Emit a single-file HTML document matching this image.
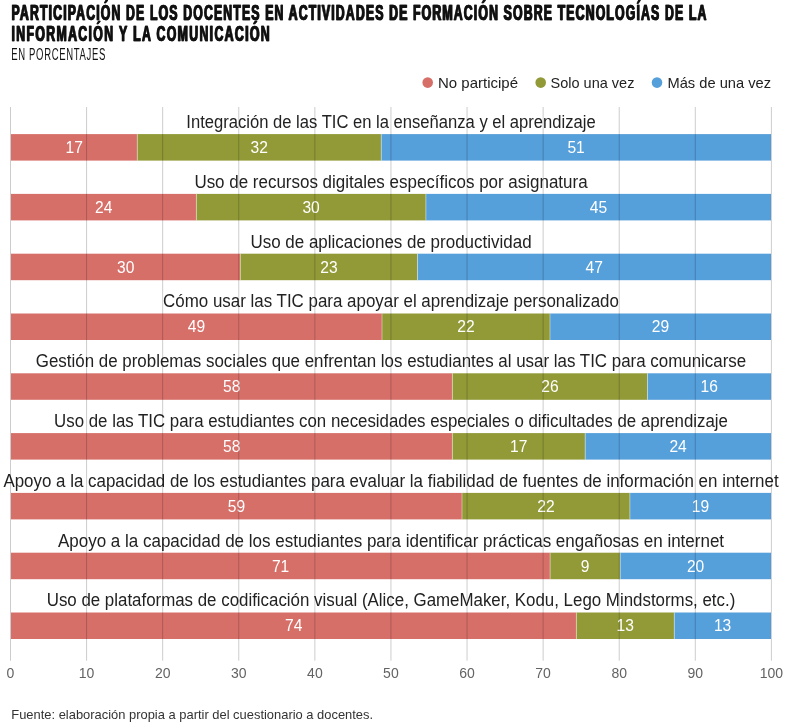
<!DOCTYPE html><html><head><meta charset="utf-8"><style>html,body{margin:0;padding:0;background:#fff;width:793px;height:728px;overflow:hidden}svg{display:block;will-change:transform}text{font-family:"Liberation Sans",sans-serif}</style></head><body>
<svg width="793" height="728" viewBox="0 0 793 728">
<rect x="0" y="0" width="793" height="728" fill="#fff"/>
<text transform="scale(0.57,1)" x="19.65" y="20.1" font-size="21.6" font-weight="bold" fill="#111" stroke="#111" stroke-width="0.7" textLength="1219.12" lengthAdjust="spacing">PARTICIPACIÓN DE LOS DOCENTES EN ACTIVIDADES DE FORMACIÓN SOBRE TECNOLOGÍAS DE LA</text>
<text transform="scale(0.57,1)" x="20.70" y="20.1" font-size="21.6" font-weight="bold" fill="#111" stroke="#111" stroke-width="0.7" textLength="1219.12" lengthAdjust="spacing">PARTICIPACIÓN DE LOS DOCENTES EN ACTIVIDADES DE FORMACIÓN SOBRE TECNOLOGÍAS DE LA</text>
<text transform="scale(0.57,1)" x="19.65" y="40.9" font-size="21.6" font-weight="bold" fill="#111" stroke="#111" stroke-width="0.7" textLength="452.98" lengthAdjust="spacing">INFORMACIÓN Y LA COMUNICACIÓN</text>
<text transform="scale(0.57,1)" x="20.70" y="40.9" font-size="21.6" font-weight="bold" fill="#111" stroke="#111" stroke-width="0.7" textLength="452.98" lengthAdjust="spacing">INFORMACIÓN Y LA COMUNICACIÓN</text>
<text transform="scale(0.55,1)" x="20.36" y="59.8" font-size="17.3" font-weight="normal" fill="#111" textLength="171.27" lengthAdjust="spacing">EN PORCENTAJES</text>
<circle cx="427.7" cy="82.6" r="5.3" fill="#d76f69"/>
<text x="438" y="88" font-size="14.6" fill="#222" textLength="80.0" lengthAdjust="spacingAndGlyphs">No participé</text>
<circle cx="540.7" cy="82.6" r="5.3" fill="#919a37"/>
<text x="550.5" y="88" font-size="14.6" fill="#222" textLength="83.9" lengthAdjust="spacingAndGlyphs">Solo una vez</text>
<circle cx="657" cy="82.6" r="5.3" fill="#559fdb"/>
<text x="667.5" y="88" font-size="14.6" fill="#222" textLength="103.5" lengthAdjust="spacingAndGlyphs">Más de una vez</text>
<text x="391.0" y="127.9" font-size="17.5" fill="#222" text-anchor="middle" textLength="409.4" lengthAdjust="spacingAndGlyphs">Integración de las TIC en la enseñanza y el aprendizaje</text>
<rect x="11.00" y="134.10" width="126.30" height="26.5" fill="#d76f69"/>
<rect x="137.30" y="134.10" width="243.95" height="26.5" fill="#919a37"/>
<rect x="381.25" y="134.10" width="389.75" height="26.5" fill="#559fdb"/>
<rect x="136.80" y="134.10" width="1" height="26.5" fill="#fff" fill-opacity="0.4"/>
<rect x="380.75" y="134.10" width="1" height="26.5" fill="#fff" fill-opacity="0.4"/>
<text x="74.2" y="152.9" font-size="15.6" fill="#fff" text-anchor="middle">17</text>
<text x="259.3" y="152.9" font-size="15.6" fill="#fff" text-anchor="middle">32</text>
<text x="576.1" y="152.9" font-size="15.6" fill="#fff" text-anchor="middle">51</text>
<text x="391.0" y="187.7" font-size="17.5" fill="#222" text-anchor="middle" textLength="393.2" lengthAdjust="spacingAndGlyphs">Uso de recursos digitales específicos por asignatura</text>
<rect x="11.00" y="193.90" width="185.40" height="26.5" fill="#d76f69"/>
<rect x="196.40" y="193.90" width="229.50" height="26.5" fill="#919a37"/>
<rect x="425.90" y="193.90" width="345.10" height="26.5" fill="#559fdb"/>
<rect x="195.90" y="193.90" width="1" height="26.5" fill="#fff" fill-opacity="0.4"/>
<rect x="425.40" y="193.90" width="1" height="26.5" fill="#fff" fill-opacity="0.4"/>
<text x="103.7" y="212.7" font-size="15.6" fill="#fff" text-anchor="middle">24</text>
<text x="311.1" y="212.7" font-size="15.6" fill="#fff" text-anchor="middle">30</text>
<text x="598.5" y="212.7" font-size="15.6" fill="#fff" text-anchor="middle">45</text>
<text x="391.0" y="247.5" font-size="17.5" fill="#222" text-anchor="middle" textLength="281.2" lengthAdjust="spacingAndGlyphs">Uso de aplicaciones de productividad</text>
<rect x="11.00" y="253.70" width="229.30" height="26.5" fill="#d76f69"/>
<rect x="240.30" y="253.70" width="177.20" height="26.5" fill="#919a37"/>
<rect x="417.50" y="253.70" width="353.50" height="26.5" fill="#559fdb"/>
<rect x="239.80" y="253.70" width="1" height="26.5" fill="#fff" fill-opacity="0.4"/>
<rect x="417.00" y="253.70" width="1" height="26.5" fill="#fff" fill-opacity="0.4"/>
<text x="125.7" y="272.5" font-size="15.6" fill="#fff" text-anchor="middle">30</text>
<text x="328.9" y="272.5" font-size="15.6" fill="#fff" text-anchor="middle">23</text>
<text x="594.2" y="272.5" font-size="15.6" fill="#fff" text-anchor="middle">47</text>
<text x="391.0" y="307.3" font-size="17.5" fill="#222" text-anchor="middle" textLength="455.8" lengthAdjust="spacingAndGlyphs">Cómo usar las TIC para apoyar el aprendizaje personalizado</text>
<rect x="11.00" y="313.50" width="371.00" height="26.5" fill="#d76f69"/>
<rect x="382.00" y="313.50" width="168.00" height="26.5" fill="#919a37"/>
<rect x="550.00" y="313.50" width="221.00" height="26.5" fill="#559fdb"/>
<rect x="381.50" y="313.50" width="1" height="26.5" fill="#fff" fill-opacity="0.4"/>
<rect x="549.50" y="313.50" width="1" height="26.5" fill="#fff" fill-opacity="0.4"/>
<text x="196.5" y="332.3" font-size="15.6" fill="#fff" text-anchor="middle">49</text>
<text x="466.0" y="332.3" font-size="15.6" fill="#fff" text-anchor="middle">22</text>
<text x="660.5" y="332.3" font-size="15.6" fill="#fff" text-anchor="middle">29</text>
<text x="391.0" y="367.1" font-size="17.5" fill="#222" text-anchor="middle" textLength="710.4" lengthAdjust="spacingAndGlyphs">Gestión de problemas sociales que enfrentan los estudiantes al usar las TIC para comunicarse</text>
<rect x="11.00" y="373.30" width="441.40" height="26.5" fill="#d76f69"/>
<rect x="452.40" y="373.30" width="195.10" height="26.5" fill="#919a37"/>
<rect x="647.50" y="373.30" width="123.50" height="26.5" fill="#559fdb"/>
<rect x="451.90" y="373.30" width="1" height="26.5" fill="#fff" fill-opacity="0.4"/>
<rect x="647.00" y="373.30" width="1" height="26.5" fill="#fff" fill-opacity="0.4"/>
<text x="231.7" y="392.1" font-size="15.6" fill="#fff" text-anchor="middle">58</text>
<text x="550.0" y="392.1" font-size="15.6" fill="#fff" text-anchor="middle">26</text>
<text x="709.2" y="392.1" font-size="15.6" fill="#fff" text-anchor="middle">16</text>
<text x="391.0" y="426.9" font-size="17.5" fill="#222" text-anchor="middle" textLength="673.8" lengthAdjust="spacingAndGlyphs">Uso de las TIC para estudiantes con necesidades especiales o dificultades de aprendizaje</text>
<rect x="11.00" y="433.10" width="441.40" height="26.5" fill="#d76f69"/>
<rect x="452.40" y="433.10" width="132.80" height="26.5" fill="#919a37"/>
<rect x="585.20" y="433.10" width="185.80" height="26.5" fill="#559fdb"/>
<rect x="451.90" y="433.10" width="1" height="26.5" fill="#fff" fill-opacity="0.4"/>
<rect x="584.70" y="433.10" width="1" height="26.5" fill="#fff" fill-opacity="0.4"/>
<text x="231.7" y="451.9" font-size="15.6" fill="#fff" text-anchor="middle">58</text>
<text x="518.8" y="451.9" font-size="15.6" fill="#fff" text-anchor="middle">17</text>
<text x="678.1" y="451.9" font-size="15.6" fill="#fff" text-anchor="middle">24</text>
<text x="391.0" y="486.7" font-size="17.5" fill="#222" text-anchor="middle" textLength="775.2" lengthAdjust="spacingAndGlyphs">Apoyo a la capacidad de los estudiantes para evaluar la fiabilidad de fuentes de información en internet</text>
<rect x="11.00" y="492.90" width="451.00" height="26.5" fill="#d76f69"/>
<rect x="462.00" y="492.90" width="167.90" height="26.5" fill="#919a37"/>
<rect x="629.90" y="492.90" width="141.10" height="26.5" fill="#559fdb"/>
<rect x="461.50" y="492.90" width="1" height="26.5" fill="#fff" fill-opacity="0.4"/>
<rect x="629.40" y="492.90" width="1" height="26.5" fill="#fff" fill-opacity="0.4"/>
<text x="236.5" y="511.7" font-size="15.6" fill="#fff" text-anchor="middle">59</text>
<text x="546.0" y="511.7" font-size="15.6" fill="#fff" text-anchor="middle">22</text>
<text x="700.5" y="511.7" font-size="15.6" fill="#fff" text-anchor="middle">19</text>
<text x="391.0" y="546.5" font-size="17.5" fill="#222" text-anchor="middle" textLength="666.2" lengthAdjust="spacingAndGlyphs">Apoyo a la capacidad de los estudiantes para identificar prácticas engañosas en internet</text>
<rect x="11.00" y="552.70" width="539.10" height="26.5" fill="#d76f69"/>
<rect x="550.10" y="552.70" width="70.10" height="26.5" fill="#919a37"/>
<rect x="620.20" y="552.70" width="150.80" height="26.5" fill="#559fdb"/>
<rect x="549.60" y="552.70" width="1" height="26.5" fill="#fff" fill-opacity="0.4"/>
<rect x="619.70" y="552.70" width="1" height="26.5" fill="#fff" fill-opacity="0.4"/>
<text x="280.6" y="571.5" font-size="15.6" fill="#fff" text-anchor="middle">71</text>
<text x="585.2" y="571.5" font-size="15.6" fill="#fff" text-anchor="middle">9</text>
<text x="695.6" y="571.5" font-size="15.6" fill="#fff" text-anchor="middle">20</text>
<text x="391.0" y="606.3" font-size="17.5" fill="#222" text-anchor="middle" textLength="688.6" lengthAdjust="spacingAndGlyphs">Uso de plataformas de codificación visual (Alice, GameMaker, Kodu, Lego Mindstorms, etc.)</text>
<rect x="11.00" y="612.50" width="565.40" height="26.5" fill="#d76f69"/>
<rect x="576.40" y="612.50" width="97.90" height="26.5" fill="#919a37"/>
<rect x="674.30" y="612.50" width="96.70" height="26.5" fill="#559fdb"/>
<rect x="575.90" y="612.50" width="1" height="26.5" fill="#fff" fill-opacity="0.4"/>
<rect x="673.80" y="612.50" width="1" height="26.5" fill="#fff" fill-opacity="0.4"/>
<text x="293.7" y="631.3" font-size="15.6" fill="#fff" text-anchor="middle">74</text>
<text x="625.3" y="631.3" font-size="15.6" fill="#fff" text-anchor="middle">13</text>
<text x="722.6" y="631.3" font-size="15.6" fill="#fff" text-anchor="middle">13</text>
<line x1="10.50" y1="107" x2="10.50" y2="660.7" stroke="#000" stroke-opacity="0.2" stroke-width="1"/>
<text x="10.5" y="678" font-size="14" fill="#636363" text-anchor="middle">0</text>
<line x1="86.59" y1="107" x2="86.59" y2="660.7" stroke="#000" stroke-opacity="0.2" stroke-width="1"/>
<text x="86.6" y="678" font-size="14" fill="#636363" text-anchor="middle">10</text>
<line x1="162.68" y1="107" x2="162.68" y2="660.7" stroke="#000" stroke-opacity="0.2" stroke-width="1"/>
<text x="162.7" y="678" font-size="14" fill="#636363" text-anchor="middle">20</text>
<line x1="238.77" y1="107" x2="238.77" y2="660.7" stroke="#000" stroke-opacity="0.2" stroke-width="1"/>
<text x="238.8" y="678" font-size="14" fill="#636363" text-anchor="middle">30</text>
<line x1="314.86" y1="107" x2="314.86" y2="660.7" stroke="#000" stroke-opacity="0.2" stroke-width="1"/>
<text x="314.9" y="678" font-size="14" fill="#636363" text-anchor="middle">40</text>
<line x1="390.95" y1="107" x2="390.95" y2="660.7" stroke="#000" stroke-opacity="0.2" stroke-width="1"/>
<text x="390.9" y="678" font-size="14" fill="#636363" text-anchor="middle">50</text>
<line x1="467.04" y1="107" x2="467.04" y2="660.7" stroke="#000" stroke-opacity="0.2" stroke-width="1"/>
<text x="467.0" y="678" font-size="14" fill="#636363" text-anchor="middle">60</text>
<line x1="543.13" y1="107" x2="543.13" y2="660.7" stroke="#000" stroke-opacity="0.2" stroke-width="1"/>
<text x="543.1" y="678" font-size="14" fill="#636363" text-anchor="middle">70</text>
<line x1="619.22" y1="107" x2="619.22" y2="660.7" stroke="#000" stroke-opacity="0.2" stroke-width="1"/>
<text x="619.2" y="678" font-size="14" fill="#636363" text-anchor="middle">80</text>
<line x1="695.31" y1="107" x2="695.31" y2="660.7" stroke="#000" stroke-opacity="0.2" stroke-width="1"/>
<text x="695.3" y="678" font-size="14" fill="#636363" text-anchor="middle">90</text>
<line x1="771.40" y1="107" x2="771.40" y2="660.7" stroke="#000" stroke-opacity="0.2" stroke-width="1"/>
<text x="771.4" y="678" font-size="14" fill="#636363" text-anchor="middle">100</text>
<text x="11.3" y="718.7" font-size="13" fill="#333" textLength="361.8" lengthAdjust="spacingAndGlyphs">Fuente: elaboración propia a partir del cuestionario a docentes.</text>
</svg></body></html>
